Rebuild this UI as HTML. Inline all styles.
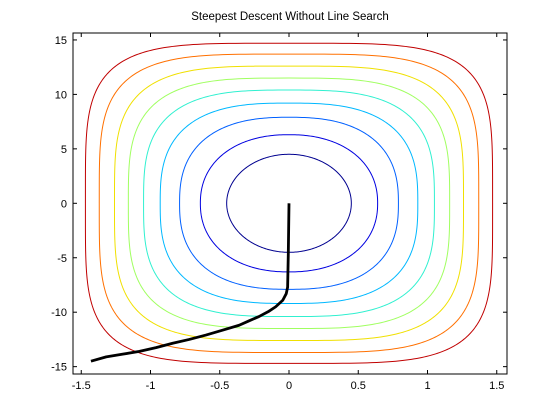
<!DOCTYPE html>
<html><head><meta charset="utf-8"><style>
body{margin:0;background:#fff;}
svg{display:block;font-family:"Liberation Sans",Arial,sans-serif;}
</style></head><body>
<svg id="chart" width="560" height="420" viewBox="0 0 560 420">
<rect width="560" height="420" fill="#fff"/>
<text x="290" y="20" font-size="11.5" text-anchor="middle">Steepest Descent Without Line Search</text>
<g id="plot"></g>
</svg>
<script>
const xTicks=[-1.5,-1,-0.5,0,0.5,1,1.5];
const xTickLabels=["-1.5","-1","-0.5","0","0.5","1","1.5"];
const yTicks=[-15,-10,-5,0,5,10,15];
const yTickLabels=["-15","-10","-5","0","5","10","15"];
const contourHalfX=[0.45,0.64,0.79,0.93,1.05,1.16,1.26,1.37,1.47];
const contourHalfY=[4.5,6.3,7.9,9.2,10.4,11.5,12.6,13.7,14.7];
const contourPower=[2.0,2.2,2.5,2.8,3.1,3.4,3.7,4.0,4.4];
const contourColors=["#00008f","#0000e0","#0060ff","#00b8ff","#30f0d0","#a0ff60","#f0e000","#ff7000","#c00000"];
const pathX=[0,-0.005,-0.01,-0.02,-0.045,-0.096,-0.15,-0.217,-0.29,-0.36,-0.48,-0.60,-0.72,-0.84,-0.96,-1.08,-1.2,-1.32,-1.43];
const pathY=[0,-4.6,-7.7,-8.3,-8.9,-9.5,-9.95,-10.4,-10.8,-11.2,-11.65,-12.1,-12.5,-12.85,-13.25,-13.6,-13.85,-14.1,-14.5];

const L=73,R=507,T=33,B=374;
const sx=v=>289+v*138.5;
const sy=v=>203.3-v*10.89;
const NS="http://www.w3.org/2000/svg";
const g=document.getElementById('plot');
function mk(tag,attrs){const e=document.createElementNS(NS,tag);for(const k in attrs)e.setAttribute(k,attrs[k]);g.appendChild(e);return e;}

for(let i=0;i<contourHalfX.length;i++){
  const a=contourHalfX[i],b=contourHalfY[i],p=contourPower[i];
  let d="";
  for(let k=0;k<=360;k++){
    const t=k/360*2*Math.PI,c=Math.cos(t),s=Math.sin(t);
    const x=a*Math.sign(c)*Math.pow(Math.abs(c),2/p);
    const y=b*Math.sign(s)*Math.pow(Math.abs(s),2/p);
    d+=(k?"L":"M")+sx(x).toFixed(2)+" "+sy(y).toFixed(2);
  }
  const e=mk('path',{d:d+"Z",fill:"none",stroke:contourColors[i],"stroke-width":1});
  
  
}
let pd="";
for(let i=0;i<pathX.length;i++)pd+=(i?"L":"M")+sx(pathX[i]).toFixed(2)+" "+sy(pathY[i]).toFixed(2);
const pe=mk('path',{d:pd,fill:"none",stroke:"#000","stroke-width":2.8,"stroke-linejoin":"round"});



const box=mk('rect',{x:L,y:T,width:R-L,height:B-T,fill:"none",stroke:"#000","stroke-width":1});



xTicks.forEach((v,i)=>{
  const x=sx(v);
  const t1=mk('line',{x1:x,x2:x,y1:B,y2:B-4,stroke:"#000"});
  
  
  const t2=mk('line',{x1:x,x2:x,y1:T,y2:T+4,stroke:"#000"});
  
  
  const tx=mk('text',{x:x,y:B+15,"font-size":11,"text-anchor":"middle"});
  tx.textContent=xTickLabels[i];
  
  
});
yTicks.forEach((v,i)=>{
  const y=sy(v);
  const t1=mk('line',{x1:L,x2:L+4,y1:y,y2:y,stroke:"#000"});
  
  
  const t2=mk('line',{x1:R,x2:R-4,y1:y,y2:y,stroke:"#000"});
  
  
  const tx=mk('text',{x:L-6,y:y+4,"font-size":11,"text-anchor":"end"});
  tx.textContent=yTickLabels[i];
  
  
});
</script>
</body></html>
